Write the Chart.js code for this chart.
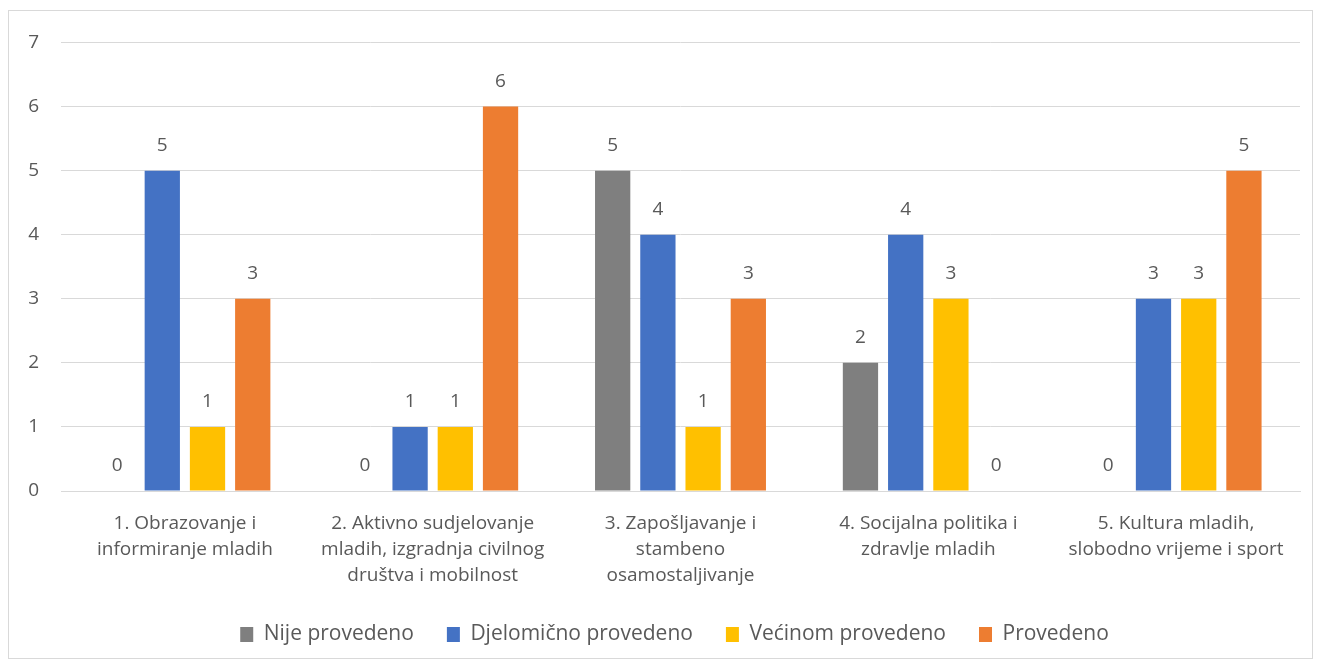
<!DOCTYPE html>
<html>
<head>
<meta charset="utf-8">
<script src="https://cdn.jsdelivr.net/npm/chart.js@4/dist/chart.umd.min.js"></script>
<style>
    html, body { margin: 0; padding: 0; background: #fff; }
    #wrap {
        position: absolute; left: 8px; top: 10px;
        width: 1305px; height: 649px;
        border: 1px solid #d9d9d9; box-sizing: border-box;
    }
</style>
</head>
<body>
<div id="wrap"><canvas id="chart"></canvas></div>
<script>
// Data
const categories = [
    ['1. Obrazovanje i', 'informiranje mladih'],
    ['2. Aktivno sudjelovanje', 'mladih, izgradnja civilnog', 'društva i mobilnost'],
    ['3. Zapošljavanje i', 'stambeno', 'osamostaljivanje'],
    ['4. Socijalna politika i', 'zdravlje mladih'],
    ['5. Kultura mladih,', 'slobodno vrijeme i sport']
];
const nijeProvedeno = [0, 0, 5, 2, 0];
const djelomicnoProvedeno = [5, 1, 4, 4, 3];
const vecinomProvedeno = [1, 1, 1, 3, 3];
const provedeno = [3, 6, 3, 0, 5];
const yTicks = [0, 1, 2, 3, 4, 5, 6, 7];

const FONT = '"Open Sans", "Noto Sans", sans-serif';
const TEXT = '#595959';

// value labels above each bar
const barLabels = {
    id: 'barLabels',
    afterDatasetsDraw(chart) {
        const ctx = chart.ctx;
        ctx.save();
        ctx.font = '19px ' + FONT;
        ctx.fillStyle = TEXT;
        ctx.textAlign = 'center';
        ctx.textBaseline = 'middle';
        chart.data.datasets.forEach((ds, i) => {
            chart.getDatasetMeta(i).data.forEach((bar, j) => {
                ctx.fillText(String(ds.data[j]), bar.x, bar.y - 25);
            });
        });
        ctx.restore();
    }
};

// nudge the legend a bit to the right, like the original
const legendShift = {
    id: 'legendShift',
    afterLayout(chart) {
        if (chart.legend) chart.legend.left += 40;
    }
};

new Chart(document.getElementById('chart'), {
    type: 'bar',
    data: {
        labels: categories,
        datasets: [
            { label: 'Nije provedeno', data: nijeProvedeno, backgroundColor: '#7f7f7f' },
            { label: 'Djelomično provedeno', data: djelomicnoProvedeno, backgroundColor: '#4472c4' },
            { label: 'Većinom provedeno', data: vecinomProvedeno, backgroundColor: '#ffc000' },
            { label: 'Provedeno', data: provedeno, backgroundColor: '#ed7d31' }
        ]
    },
    options: {
        responsive: true,
        maintainAspectRatio: false,
        animation: false,
        categoryPercentage: 0.73,
        barPercentage: 0.78,
        layout: { padding: { top: 29, right: 12, left: 0, bottom: 3 } },
        plugins: {
            legend: {
                position: 'bottom',
                labels: {
                    font: { family: FONT, size: 21 },
                    color: TEXT,
                    boxWidth: 13,
                    boxHeight: 15,
                    padding: 33
                }
            },
            tooltip: { enabled: false }
        },
        scales: {
            x: {
                grid: { display: false },
                border: { color: '#d9d9d9' },
                afterFit: axis => { axis.height = 100; },
                ticks: {
                    font: { family: FONT, size: 19, lineHeight: 1.37 },
                    color: TEXT,
                    padding: 12,
                    maxRotation: 0
                }
            },
            y: {
                min: 0,
                max: 7,
                afterBuildTicks: axis => { axis.ticks = yTicks.map(v => ({ value: v })); },
                afterFit: axis => { axis.width = 52; },
                grid: { color: '#d9d9d9', drawTicks: false },
                border: { display: false },
                ticks: {
                    font: { family: FONT, size: 19, lineHeight: 1 },
                    color: TEXT,
                    padding: 22
                }
            }
        }
    },
    plugins: [barLabels, legendShift]
});
</script>
</body>
</html>
